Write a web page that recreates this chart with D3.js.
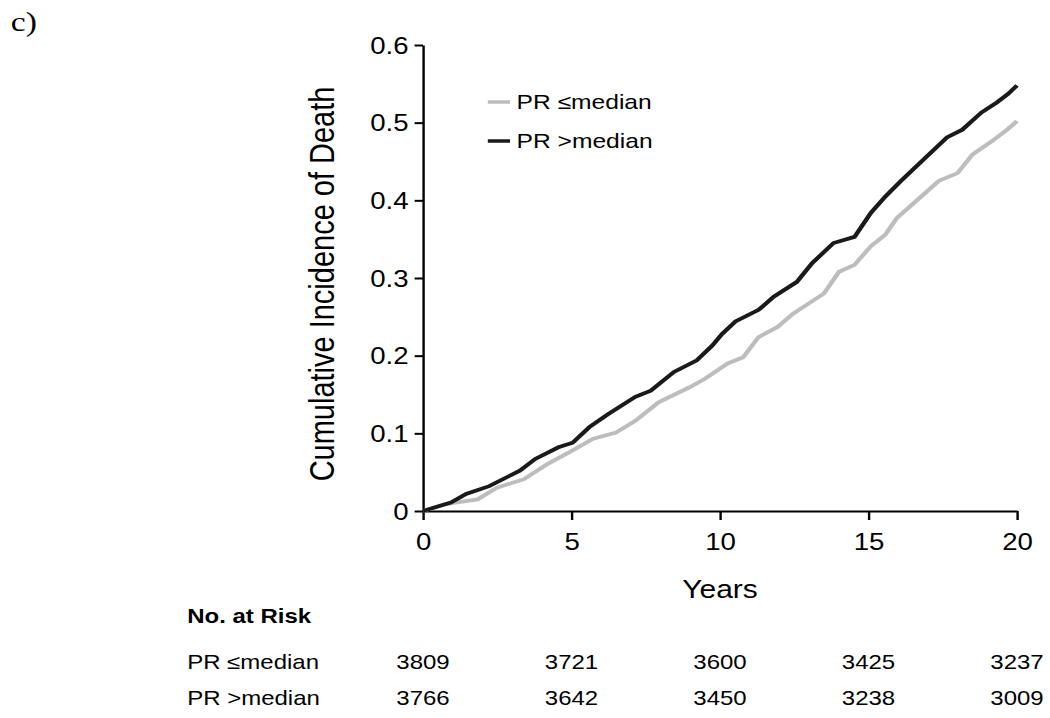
<!DOCTYPE html>
<html>
<head>
<meta charset="utf-8">
<script src="https://cdn.jsdelivr.net/npm/d3@7"></script>
<style>
  html, body { margin: 0; padding: 0; background: #fff; }
  svg { display: block; }
  text { font-family: "Liberation Sans", Arial, sans-serif; fill: #000; }
</style>
</head>
<body>
<svg id="chart" width="1050" height="718"></svg>
<script>
// ---- data ----
const yearsLow  = [0, 0.74, 1.84, 2.49, 3.4, 4.17, 5.04, 5.73, 6.5, 7.15, 7.93, 8.96, 9.48, 10.26, 10.78, 11.3, 11.94, 12.46, 12.98, 13.5, 14.01, 14.53, 15.08, 15.57, 15.95, 16.6, 17.37, 18.0, 18.5, 19.15, 19.67, 20.0];
const incLow    = [0, 0.009, 0.015, 0.030, 0.041, 0.060, 0.078, 0.093, 0.101, 0.116, 0.140, 0.159, 0.170, 0.190, 0.198, 0.224, 0.237, 0.254, 0.267, 0.280, 0.308, 0.317, 0.341, 0.356, 0.377, 0.399, 0.425, 0.435, 0.459, 0.476, 0.491, 0.502];
const yearsHigh = [0, 0.94, 1.45, 2.23, 3.26, 3.78, 4.56, 5.04, 5.6, 6.24, 7.15, 7.67, 8.45, 9.22, 9.74, 10.07, 10.52, 11.3, 11.81, 12.59, 13.1, 13.82, 14.53, 15.08, 15.57, 16.09, 16.73, 17.64, 18.16, 18.8, 19.32, 19.7, 20.0];
const incHigh   = [0, 0.011, 0.022, 0.032, 0.052, 0.067, 0.082, 0.088, 0.108, 0.125, 0.147, 0.155, 0.179, 0.194, 0.213, 0.228, 0.244, 0.259, 0.276, 0.295, 0.319, 0.345, 0.353, 0.384, 0.405, 0.425, 0.448, 0.481, 0.491, 0.513, 0.526, 0.537, 0.548];
const seriesNames = ["PR \u2264median", "PR >median"];
const seriesColors = ["#bdbdbd", "#1a1a1a"];
const xTicks = [0, 5, 10, 15, 20];
const yTicks = [0, 0.1, 0.2, 0.3, 0.4, 0.5, 0.6];
const riskTimes = [0, 5, 10, 15, 20];
const riskLow  = [3809, 3721, 3600, 3425, 3237];
const riskHigh = [3766, 3642, 3450, 3238, 3009];

// ---- layout (drawn in a horizontally-stretched frame) ----
const SX = 1.2;
const svg = d3.select("#chart");
const g = svg.append("g").attr("transform", `scale(${SX},1)`);

const x = d3.scaleLinear().domain([0, 20]).range([352.5, 847.5]);
const y = d3.scaleLinear().domain([0, 0.6]).range([511, 45]);

// panel label
g.append("text").attr("x", 9).attr("y", 31)
  .style("font-family", "'Liberation Serif', 'Times New Roman', serif")
  .style("font-size", "28px").text("c)");

// axes
const xAxis = g.append("g").attr("transform", `translate(0,${y(0)})`)
  .call(d3.axisBottom(x).tickValues(xTicks).tickSize(9).tickSizeOuter(0).tickPadding(14).tickFormat(d3.format("d")));
const yAxis = g.append("g").attr("transform", `translate(${x(0)},0)`)
  .call(d3.axisLeft(y).tickValues(yTicks).tickSize(7).tickSizeOuter(0).tickPadding(5)
    .tickFormat(d => d === 0 ? "0" : d3.format(".1f")(d)));
[xAxis, yAxis].forEach(a => {
  a.select(".domain").attr("stroke", "#000").attr("stroke-width", 2);
  a.selectAll(".tick line").attr("stroke", "#000").attr("stroke-width", 2);
  a.selectAll(".tick text").style("font-size", "23px").attr("fill", "#000");
});
yAxis.selectAll(".tick text").attr("dy", "0.36em");

// axis titles
g.append("text").attr("x", (x(0) + x(20)) / 2).attr("y", 598)
  .attr("text-anchor", "middle").style("font-size", "25px").text("Years");
g.append("text")
  .attr("transform", `translate(278,${284}) rotate(-90)`)
  .attr("text-anchor", "middle").style("font-size", "29px")
  .text("Cumulative Incidence of Death");

// curves
const line = d3.line().x(d => x(d[0])).y(d => y(d[1])).curve(d3.curveLinear);
const seriesData = [
  d3.zip(yearsLow, incLow),
  d3.zip(yearsHigh, incHigh)
];
seriesData.forEach((s, i) => {
  g.append("path").datum(s)
    .attr("fill", "none")
    .attr("stroke", seriesColors[i])
    .attr("stroke-width", 3.8)
    .attr("stroke-linejoin", "miter")
    .attr("d", line);
});

// legend
const legY = [102, 141];
seriesNames.forEach((n, i) => {
  g.append("line").attr("x1", 406.5).attr("x2", 425).attr("y1", legY[i]).attr("y2", legY[i])
    .attr("stroke", seriesColors[i]).attr("stroke-width", 3.5);
  g.append("text").attr("x", 430.5).attr("y", legY[i] + 7.5)
    .style("font-size", "20.5px").text(n);
});

// risk table
g.append("text").attr("x", 156).attr("y", 623)
  .style("font-size", "20px").style("font-weight", "bold").text("No. at Risk");
const rowY = [669, 705];
[riskLow, riskHigh].forEach((row, i) => {
  g.append("text").attr("x", 156).attr("y", rowY[i]).style("font-size", "20px").text(seriesNames[i]);
  g.selectAll(null).data(row).enter().append("text")
    .attr("x", (d, j) => x(riskTimes[j]))
    .attr("y", rowY[i])
    .attr("text-anchor", "middle")
    .style("font-size", "20px")
    .text(d => d);
});
</script>
</body>
</html>
